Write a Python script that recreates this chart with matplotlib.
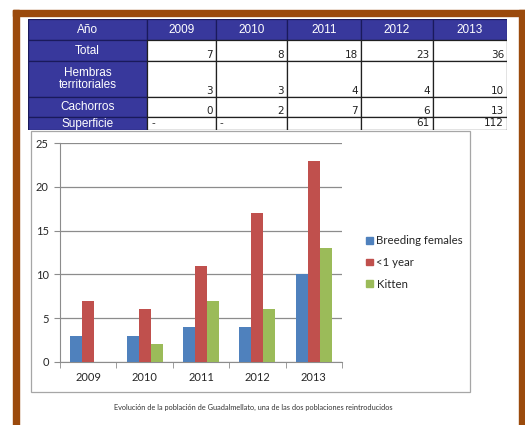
import matplotlib
matplotlib.use("Agg")
import matplotlib.pyplot as plt
from matplotlib.patches import Rectangle, Patch

# table data
years = ["2009", "2010", "2011", "2012", "2013"]
row_labels = ["Total", "Hembras\nterritoriales", "Cachorros", "Superficie"]
total = ["7", "8", "18", "23", "36"]
hembras = ["3", "3", "4", "4", "10"]
cachorros = ["0", "2", "7", "6", "13"]
superficie = ["-", "-", "", "61", "112"]

# chart data
breeding_females = [3, 3, 4, 4, 10]
under_one_year = [7, 6, 11, 17, 23]
kitten = [0, 2, 7, 6, 13]

W, H = 525, 425
fig = plt.figure(figsize=(W / 100, H / 100), dpi=100)
fig.patch.set_facecolor("white")


def box(x0, y0, x1, y1):
    """pixel box (top-left origin) -> figure rect"""
    return [x0 / W, 1 - y1 / H, (x1 - x0) / W, (y1 - y0) / H]


# brown frame
brown = "#9b4a0c"
for x0, y0, x1, y1 in [(13, 10, 19, 425), (13, 10, 525, 16), (519, 10, 525, 425)]:
    fig.patches.append(Rectangle((x0 / W, 1 - y1 / H), (x1 - x0) / W, (y1 - y0) / H,
                                 transform=fig.transFigure, color=brown, zorder=0))

# ---- table ----
tax = fig.add_axes(box(28, 19, 507, 130))
col_edges = [0, 119, 188, 259, 333, 405, 479]
row_edges = [0, 21, 42, 78, 98, 111]
tax.set_xlim(0, 479)
tax.set_ylim(111, 0)
tax.axis("off")
blue = "#38389c"
navy = "#1a1a5c"
rows = [total, hembras, cachorros, superficie]
for r in range(5):
    for c in range(6):
        x0, x1 = col_edges[c], col_edges[c + 1]
        y0, y1 = row_edges[r], row_edges[r + 1]
        head = r == 0 or c == 0
        tax.add_patch(Rectangle((x0, y0), x1 - x0, y1 - y0,
                                facecolor=blue if head else "white",
                                edgecolor=navy if head else "#202020", lw=0.9))
        if r == 0:
            txt = "Año" if c == 0 else years[c - 1]
            tax.text((x0 + x1) / 2, (y0 + y1) / 2 + 0.5, txt, color="white",
                     ha="center", va="center", fontsize=8.5, family="Liberation Sans")
        elif c == 0:
            tax.text((x0 + x1) / 2, (y0 + y1) / 2 + 0.5, row_labels[r - 1], color="white",
                     ha="center", va="center", fontsize=8.5, family="Liberation Sans",
                     linespacing=1.0)
        else:
            val = rows[r - 1][c - 1]
            if val == "-":
                tax.text(x0 + 4, y1 - 1.5, val, ha="left", va="bottom",
                         fontsize=7.5, color="#333333")
            elif val:
                tax.text(x1 - 3, y1 - 1.5, val, ha="right", va="bottom",
                         fontsize=7.5, color="#222222")

# ---- chart box ----
fig.patches.append(Rectangle((31 / W, 1 - 392 / H), (470 - 31) / W, (392 - 131) / H,
                             transform=fig.transFigure, facecolor="white",
                             edgecolor="#a6a6a6", lw=0.9, zorder=1))

ax = fig.add_axes(box(60, 143, 342, 362))
ax.set_zorder(2)
ax.patch.set_alpha(0)
x = range(len(years))
bw = 0.213
c_blue, c_red, c_green = "#4f81bd", "#c0504d", "#9bbb59"
ax.bar([i - bw for i in x], breeding_females, bw, color=c_blue, zorder=3, label="Breeding females")
ax.bar(list(x), under_one_year, bw, color=c_red, zorder=3, label="<1 year")
ax.bar([i + bw for i in x], kitten, bw, color=c_green, zorder=3, label="Kitten")
ax.set_xlim(-0.5, 4.5)
ax.set_ylim(0, 25)
ax.set_yticks(range(0, 26, 5))
ax.yaxis.grid(True, color="#8c8c8c", lw=0.9)
ax.set_axisbelow(True)
for s in ["top", "right"]:
    ax.spines[s].set_visible(False)
for s in ["left", "bottom"]:
    ax.spines[s].set_color("#8c8c8c")
ax.set_xticks(list(x))
ax.set_xticklabels(years)
ax.set_xticks([i - 0.5 for i in range(6)], minor=True)
ax.tick_params(axis="x", which="major", length=0, pad=7, labelsize=8, labelcolor="#262626")
ax.tick_params(axis="x", which="minor", length=4, color="#8c8c8c")
ax.tick_params(axis="y", length=4, color="#8c8c8c", pad=4, labelsize=8, labelcolor="#262626")
for lab in ax.get_xticklabels() + ax.get_yticklabels():
    lab.set_family("Lato")

handles = [Patch(color=c_blue, label="Breeding females"),
           Patch(color=c_red, label="<1 year"),
           Patch(color=c_green, label="Kitten")]
leg = fig.legend(handles=handles, loc="upper left", bbox_to_anchor=(356 / W, 1 - 225 / H),
                 frameon=False, handlelength=0.55, handleheight=0.55, handletextpad=0.35,
                 labelspacing=0.95, prop={"family": "Lato", "size": 8.2})
for t in leg.get_texts():
    t.set_color("#262626")

fig.text(253 / W, 1 - 407 / H,
         "Evolución de la población de Guadalmellato, una de las dos poblaciones reintroducidos",
         ha="center", va="center", fontsize=5.3, family="Lato", color="#333333")

fig.savefig("out.png", dpi=100)
